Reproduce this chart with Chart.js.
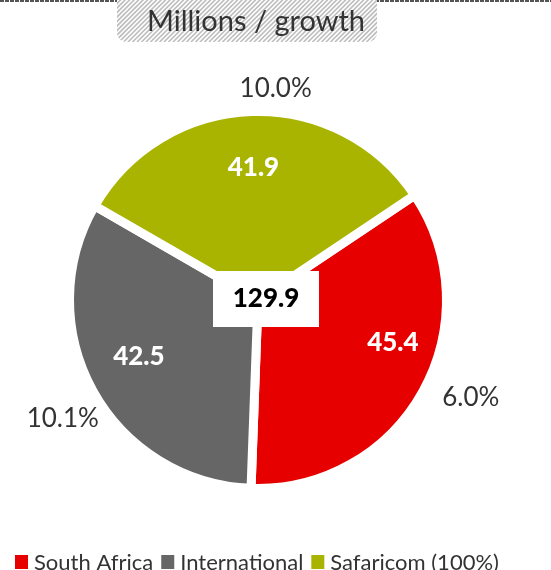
<!DOCTYPE html>
<html>
<head>
<meta charset="utf-8">
<script src="https://cdn.jsdelivr.net/npm/chart.js@4"></script>
<style>
    html, body { margin: 0; padding: 0; background: #fff; }
    #wrap { width: 551px; height: 570px; }
</style>
</head>
<body>
<div id="wrap"><canvas id="segmentChart" width="551" height="570"></canvas></div>
<script>
const categories = ['South Africa', 'International', 'Safaricom (100%)'];
const customers = [45.4, 42.5, 41.9];
const growth = ['6.0%', '10.1%', '10.0%'];
const totalLabel = '129.9';
const titleText = 'Millions / growth';

const colors = ['#e60000', '#666666', '#a8b400'];
const FONT = 'Lato, "Open Sans", sans-serif';

// small nudges for the labels, relative to the slice middle
const innerNudge = [[16, -24], [0, -9], [0, 4]];
const outerNudge = [[20, -10], [-2, 12], [25, 9]];

const labelPlugin = {
    id: 'segmentLabels',
    beforeDraw(chart) {
        const ctx = chart.ctx;
        ctx.save();
        // dashed rule on top
        ctx.strokeStyle = '#555';
        ctx.lineWidth = 2;
        ctx.setLineDash([4, 1]);
        ctx.beginPath();
        ctx.moveTo(0, 1);
        ctx.lineTo(chart.width, 1);
        ctx.stroke();
        ctx.setLineDash([]);

        // hatched title box
        const bx = 117, by = -10, bw = 260, bh = 52;
        ctx.beginPath();
        ctx.roundRect(bx, by, bw, bh, 9);
        ctx.save();
        ctx.clip();
        ctx.fillStyle = '#fff';
        ctx.fillRect(bx, by, bw, bh);
        ctx.strokeStyle = '#bdbdbd';
        ctx.lineWidth = 1.6;
        for (let x = bx - bh; x < bx + bw + bh; x += 4.5) {
            ctx.beginPath();
            ctx.moveTo(x, by + bh);
            ctx.lineTo(x + bh, by);
            ctx.stroke();
        }
        ctx.restore();

        ctx.fillStyle = '#333';
        ctx.font = '29px ' + FONT;
        ctx.textAlign = 'center';
        ctx.textBaseline = 'middle';
        ctx.fillText(titleText, 256, 22);
        ctx.restore();
    },
    afterDatasetsDraw(chart) {
        const ctx = chart.ctx;
        const meta = chart.getDatasetMeta(0);
        ctx.save();
        ctx.textAlign = 'center';
        ctx.textBaseline = 'middle';

        let cx = 0, cy = 0;
        meta.data.forEach((arc, i) => {
            const p = arc.getProps(['x', 'y', 'startAngle', 'endAngle', 'outerRadius'], true);
            cx = p.x; cy = p.y;
            const mid = (p.startAngle + p.endAngle) / 2;
            const R = p.outerRadius - 4.5;

            const ix = p.x + Math.cos(mid) * R * 0.74 + innerNudge[i][0];
            const iy = p.y + Math.sin(mid) * R * 0.74 + innerNudge[i][1];
            ctx.fillStyle = '#fff';
            ctx.font = '900 26px ' + FONT;
            ctx.fillText(customers[i].toFixed(1), ix, iy);

            const ox = p.x + Math.cos(mid) * R * 1.2 + outerNudge[i][0];
            const oy = p.y + Math.sin(mid) * R * 1.2 + outerNudge[i][1];
            ctx.fillStyle = '#333';
            ctx.font = '26px ' + FONT;
            ctx.fillText(growth[i], ox, oy);
        });

        // total in a white box
        ctx.fillStyle = '#fff';
        ctx.fillRect(cx - 45, cy - 29, 106, 56);
        ctx.fillStyle = '#000';
        ctx.font = '900 26px ' + FONT;
        ctx.fillText(totalLabel, cx + 8, cy - 1);

        // legend along the bottom
        let x = 15;
        ctx.font = '22px ' + FONT;
        ctx.textAlign = 'left';
        ctx.textBaseline = 'alphabetic';
        categories.forEach((name, i) => {
            ctx.fillStyle = colors[i];
            ctx.fillRect(x, 555, 13, 14);
            x += 19;
            ctx.fillStyle = '#333';
            ctx.fillText(name, x, 570);
            x += ctx.measureText(name).width + 8;
        });
        ctx.restore();
    }
};

new Chart(document.getElementById('segmentChart'), {
    type: 'pie',
    data: {
        labels: categories,
        datasets: [{
            data: customers,
            backgroundColor: colors,
            borderColor: '#fff',
            borderWidth: 9,
            hoverOffset: 0
        }]
    },
    options: {
        responsive: false,
        animation: false,
        rotation: 56.2,
        layout: { padding: { left: 65, right: 100, top: 107, bottom: 77 } },
        plugins: {
            legend: { display: false },
            tooltip: { enabled: false }
        }
    },
    plugins: [labelPlugin]
});
</script>
</body>
</html>
